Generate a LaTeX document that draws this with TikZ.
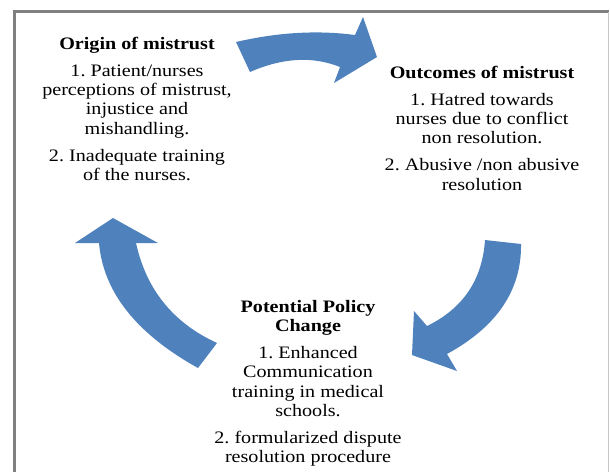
\documentclass[tikz,border=0pt]{standalone}
\usepackage{fontspec}
\setmainfont{Liberation Serif}[FakeStretch=1.15]
\frenchspacing

\definecolor{cycleblue}{RGB}{79,129,189}

\begin{document}
\begin{tikzpicture}[x=1pt, y=-1pt,
    txt/.style={anchor=north, align=center, inner sep=0pt, font=\fontsize{17.5}{19.3}\selectfont},
    bigarrow/.style={fill=cycleblue, draw=none}
]
\useasboundingbox (0,0) rectangle (610,472);
% frame
\draw[line width=3pt, black!50] (14.5,472) -- (14.5,11.5) -- (609,11.5);
\draw[line width=1pt, black!22] (608.5,11.5) -- (608.5,472);

\node[txt] (origin) at (137,37) {\textbf{Origin of mistrust}\\[7.5pt]
    1. Patient/nurses\\ perceptions of mistrust,\\ injustice and\\ mishandling.\\[7.5pt]
    2. Inadequate training\\ of the nurses.};
\node[txt] (outcome) at (482,66) {\textbf{Outcomes of mistrust}\\[7.5pt]
    1. Hatred towards\\ nurses due to conflict\\ non resolution.\\[7.5pt]
    2. Abusive /non abusive\\ resolution};
\node[txt] (policy) at (308,300) {\textbf{Potential Policy}\\ \textbf{Change}\\[7.5pt]
    1. Enhanced\\ Communication\\ training in medical\\ schools.\\[7.5pt]
    2. formularized dispute\\ resolution procedure};

% curved block arrows of the cycle
\fill[bigarrow] (236,42) .. controls (277.7,32.3) and (317.3,30) .. (355,35)
    -- (363,17) -- (377,57) -- (334,83) -- (340,67)
    .. controls (312.7,56) and (282.7,57.7) .. (250,72) -- cycle;
\fill[bigarrow] (485,240) -- (521,244) .. controls (521.7,290) and (497,326.7) .. (447,354)
    -- (457,371) -- (412,355) -- (414,311) -- (427,326)
    .. controls (463,308.5) and (482.3,279.9) .. (485,240) -- cycle;
\fill[bigarrow] (198,368) -- (217,343) .. controls (173.3,323) and (146.3,289.7) .. (136,243)
    -- (158,243) -- (113,218) -- (75,243) -- (99,243)
    .. controls (103.3,292) and (136.3,333.7) .. (198,368) -- cycle;
\end{tikzpicture}
\end{document}
